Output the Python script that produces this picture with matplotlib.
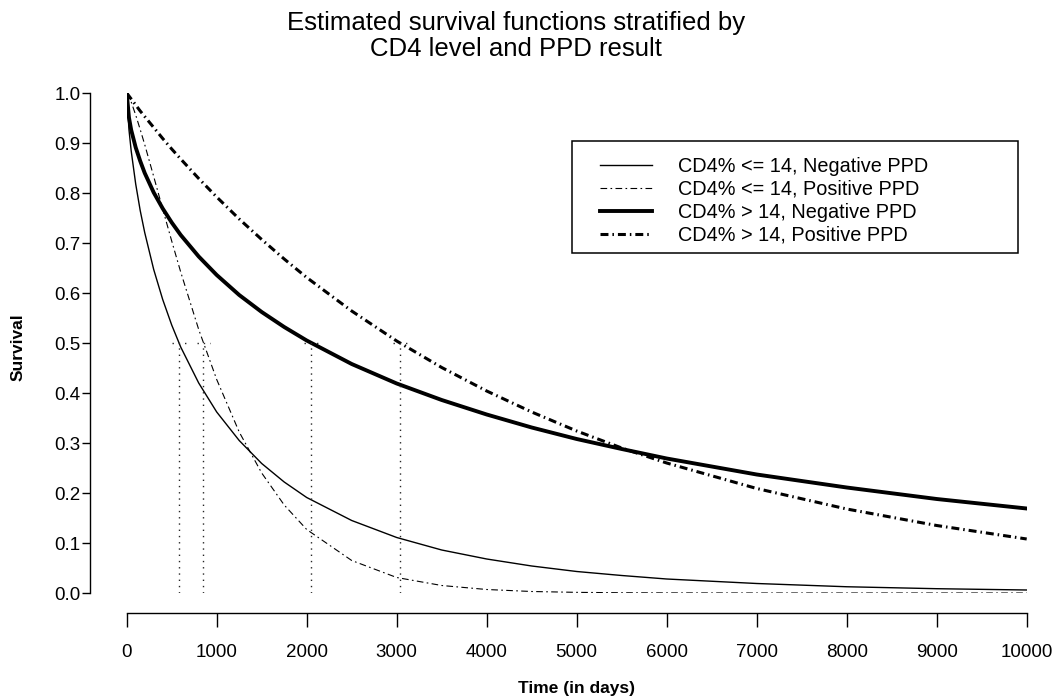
import matplotlib
matplotlib.use("Agg")
import matplotlib.pyplot as plt
from matplotlib.patches import Rectangle

plt.rcParams["font.family"] = ["Liberation Sans", "DejaVu Sans"]

# survival estimates (days since start)
days = [0, 25, 50, 100, 150, 200, 300, 400, 500, 600, 800, 1000, 1250, 1500, 1750,
        2000, 2500, 3000, 3500, 4000, 4500, 5000, 5500, 6000, 7000, 8000, 9000, 10000]
low_neg = [1.0, 0.927, 0.884, 0.818, 0.765, 0.721, 0.647, 0.587, 0.536, 0.492, 0.420, 0.362,
           0.305, 0.259, 0.222, 0.191, 0.145, 0.111, 0.086, 0.068, 0.054, 0.043, 0.035,
           0.028, 0.019, 0.0125, 0.0086, 0.006]
low_pos = [1.0, 0.992, 0.982, 0.956, 0.927, 0.897, 0.833, 0.768, 0.704, 0.642, 0.527, 0.427,
           0.322, 0.240, 0.176, 0.127, 0.065, 0.031, 0.015, 0.007, 0.003, 0.0013, 0.0005,
           0.0002, 0.0, 0.0, 0.0, 0.0]
high_neg = [1.0, 0.951, 0.926, 0.891, 0.864, 0.840, 0.801, 0.769, 0.741, 0.716, 0.673, 0.636,
            0.596, 0.562, 0.532, 0.505, 0.458, 0.419, 0.386, 0.357, 0.331, 0.308, 0.288,
            0.269, 0.237, 0.211, 0.188, 0.169]
high_pos = [1.0, 0.994, 0.988, 0.976, 0.964, 0.953, 0.931, 0.909, 0.888, 0.868, 0.829, 0.792,
            0.748, 0.707, 0.668, 0.631, 0.564, 0.504, 0.451, 0.404, 0.362, 0.324, 0.290,
            0.260, 0.209, 0.168, 0.135, 0.108]
medians = [581, 851, 2049, 3037]

labels = ["CD4% <= 14, Negative PPD", "CD4% <= 14, Positive PPD",
          "CD4% > 14, Negative PPD", "CD4% > 14, Positive PPD"]

W, H = 1053, 699
fig = plt.figure(figsize=(W / 100, H / 100), dpi=100)
ax = fig.add_axes([126.7 / W, 1 - 593 / H, 900 / W, 500 / H])

ax.plot(days, low_neg, color="black", lw=1.0, label=labels[0])
ax.plot(days, low_pos, color="black", lw=0.8, ls=(0, (6, 3, 1.5, 3)), label=labels[1])
ax.plot(days, high_neg, color="black", lw=2.8, label=labels[2])
ax.plot(days, high_pos, color="black", lw=2.2, ls=(0, (2.6, 1.3, 0.5, 1.3)), label=labels[3])

# median markers
for m in medians:
    ax.plot([m, m], [0, 0.5], color="0.15", lw=1.0, ls=(0, (1, 3.5)))
    ax.plot([m - 75, m + 75], [0.5, 0.5], color="0.15", lw=1.0, ls=(0, (1, 3.5)))

ax.set_xlim(0, 10000)
ax.set_ylim(0, 1)
ax.set_xticks(range(0, 10001, 1000))
ax.set_yticks([i / 10 for i in range(11)])
ax.set_yticklabels([f"{i / 10:.1f}" for i in range(11)])

for s in ["top", "right"]:
    ax.spines[s].set_visible(False)
ax.spines["left"].set_position(("outward", 26.4))
ax.spines["bottom"].set_position(("outward", 14.4))
ax.spines["left"].set_linewidth(1.0)
ax.spines["bottom"].set_linewidth(1.0)
ax.tick_params(axis="x", length=10, width=1, pad=12, labelsize=13.5)
ax.tick_params(axis="y", length=5.8, width=1, pad=1, labelsize=13.5)

ax.set_xlabel("Time (in days)", fontsize=12.5, fontweight="bold")
ax.xaxis.set_label_coords(0.5, (593 - 689) / 500)
ax.xaxis.label.set_va("center")
ax.set_ylabel("Survival", fontsize=12.5, fontweight="bold")
ax.yaxis.set_label_coords((18 - 126.7) / 900, (593 - 347) / 500)
ax.yaxis.label.set_va("center")

fig.text(516 / W, 1 - 11 / H, "Estimated survival functions stratified by\nCD4 level and PPD result",
         ha="center", va="top", fontsize=18.5, linespacing=1.1)

fig.add_artist(Rectangle((572 / W, 1 - 253 / H), (1018 - 572) / W, (253 - 141) / H,
                         transform=fig.transFigure, fill=False, lw=1.1, ec="black"))
fs = 14.3 * 100 / 72
ax.legend(loc="upper left", bbox_to_anchor=(600 / W, 1 - 157 / H), bbox_transform=fig.transFigure,
          frameon=False, borderpad=0, borderaxespad=0, fontsize=14.3,
          handlelength=52 / fs, handletextpad=26 / fs, labelspacing=0.2)

fig.savefig("out.png", dpi=100)
